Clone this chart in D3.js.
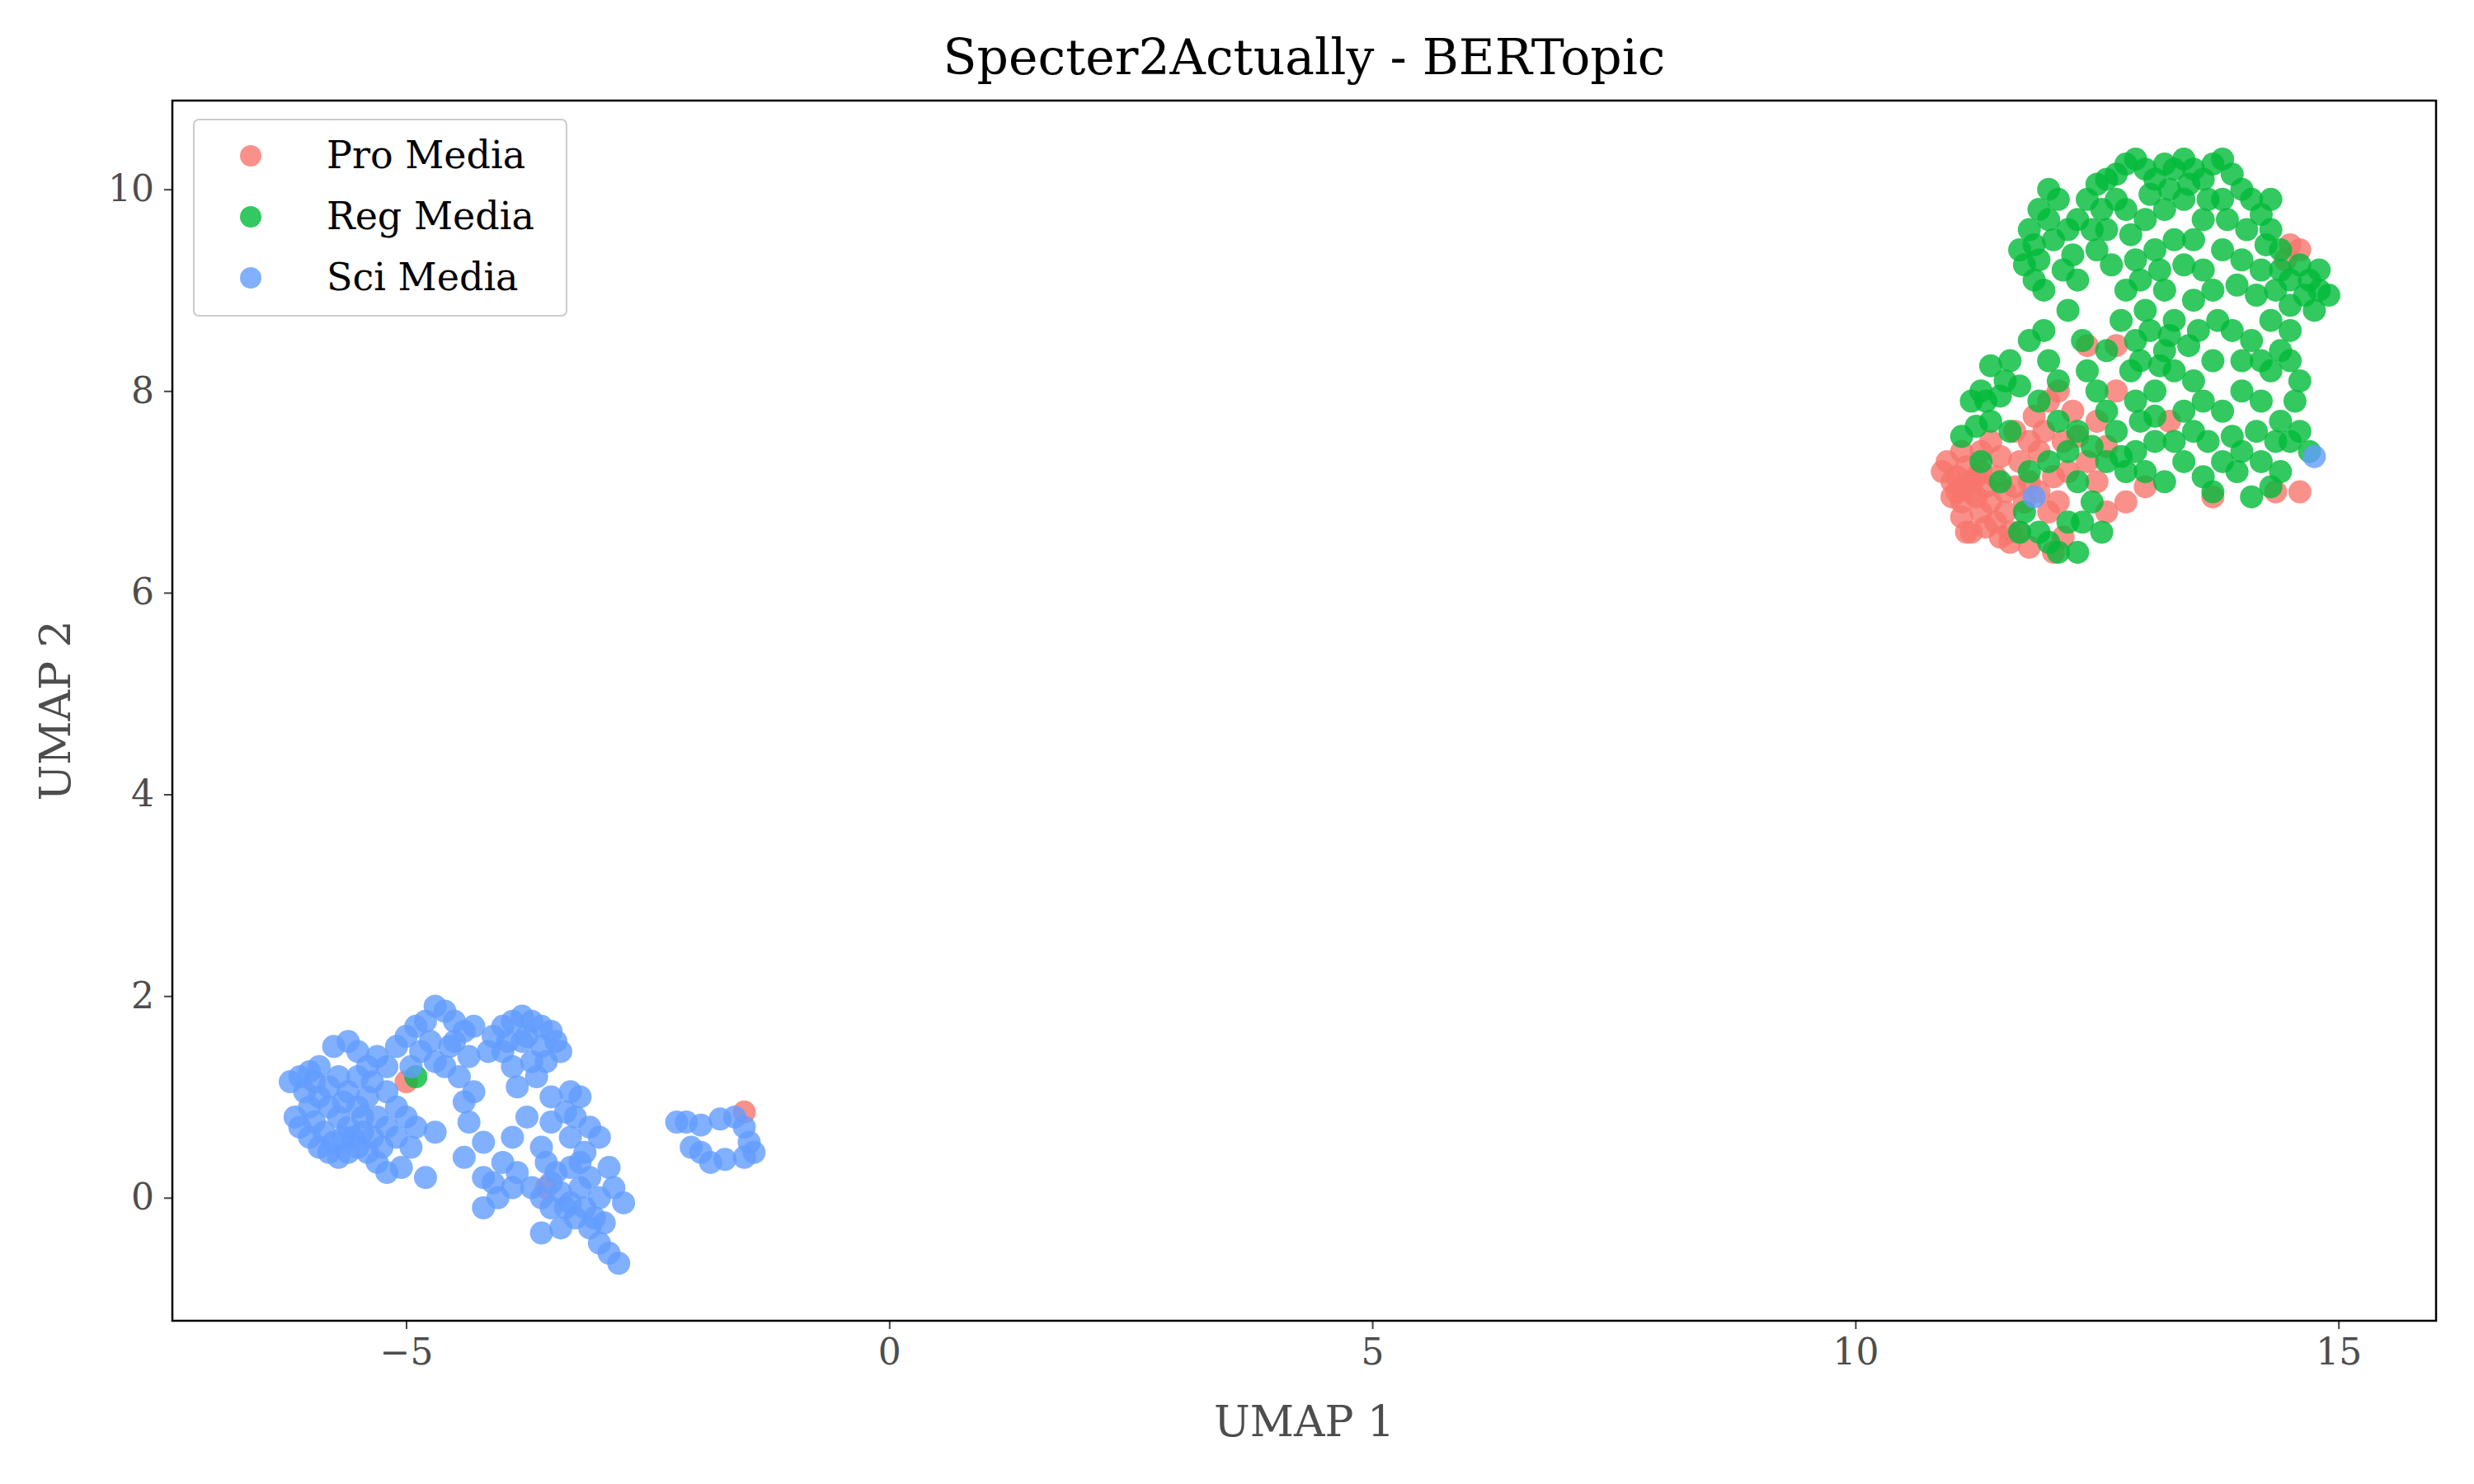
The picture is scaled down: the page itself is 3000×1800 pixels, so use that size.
<!DOCTYPE html>
<html>
<head>
<meta charset="utf-8">
<script src="https://cdn.jsdelivr.net/npm/d3@7"></script>
<style>body{margin:0;background:#fff}</style>
</head>
<body>
<script>
var categories = ["Pro Media", "Reg Media", "Sci Media"];
var colors = ["#F8766D", "#00BA38", "#619CFF"];
var xTicks = [-5, 0, 5, 10, 15];
var yTicks = [0, 2, 4, 6, 8, 10];

var proPoints = [[10.9,7.2],[11.0,7.1],[11.05,7.0],[11.1,6.9],[11.15,7.25],[11.2,7.1],[11.25,6.95],[11.3,6.8],[11.0,6.95],[11.1,6.75],[11.15,6.6],[11.35,7.05],[11.4,6.9],[11.45,6.7],[11.5,6.55],[11.6,6.5],[11.7,6.6],[11.55,6.8],[11.65,7.05],[11.3,7.4],[11.5,7.35],[11.4,7.5],[11.7,7.3],[11.8,7.1],[11.9,7.4],[11.95,7.6],[11.85,7.75],[12.0,7.9],[12.1,8.0],[12.15,7.5],[12.25,7.8],[12.0,6.8],[12.15,6.55],[12.4,7.3],[12.5,7.1],[12.6,7.45],[12.7,8.0],[12.4,8.45],[12.7,8.45],[13.0,7.05],[12.2,7.2],[12.8,6.9],[13.7,6.95],[14.6,7.0],[14.5,9.45],[14.6,9.4],[14.45,9.3],[11.1,7.4],[11.2,6.6],[10.95,7.3],[11.8,6.45],[11.6,6.6],[11.25,7.15],[12.6,6.8],[13.25,7.7],[14.35,7.0],[12.05,6.4],[11.05,7.15],[11.2,7.0],[11.3,7.2],[11.1,7.05],[11.45,7.15],[11.35,6.65],[11.55,7.0],[11.75,6.9],[11.9,7.0],[12.3,7.55],[12.05,7.15],[12.1,6.9],[11.65,7.6],[11.8,7.5],[12.5,7.7],[-1.5,0.85],[-5.0,1.15],[-3.55,0.1]];

var regPoints = [[12.5,10.05],[12.6,10.1],[12.7,10.15],[12.8,10.25],[12.9,10.3],[13.0,10.2],[13.1,10.1],[13.2,10.25],[13.3,10.2],[13.4,10.3],[13.5,10.2],[13.6,10.1],[13.7,10.25],[13.8,10.3],[13.9,10.15],[14.0,10.0],[14.1,9.9],[14.2,9.75],[14.3,9.6],[14.4,9.4],[12.4,9.9],[12.3,9.7],[12.2,9.6],[12.1,9.9],[12.0,10.0],[11.9,9.8],[11.8,9.6],[11.7,9.4],[11.75,9.25],[11.9,9.3],[12.05,9.5],[11.95,9.0],[12.3,9.1],[12.2,8.8],[12.5,9.4],[12.6,9.6],[12.8,9.8],[13.0,9.7],[13.2,9.8],[13.4,9.9],[13.6,9.7],[13.3,9.5],[13.1,9.4],[12.9,9.3],[12.8,9.0],[12.75,8.7],[12.9,8.5],[13.0,8.8],[13.2,9.0],[13.3,8.7],[13.5,8.9],[13.6,9.2],[13.8,9.4],[14.0,9.3],[14.2,9.2],[14.35,9.0],[14.5,9.1],[14.6,9.25],[14.7,9.1],[14.8,9.0],[14.9,8.95],[14.5,8.85],[14.3,8.7],[14.1,8.5],[14.2,8.3],[14.4,8.4],[13.9,8.6],[13.7,8.3],[13.5,8.1],[13.6,7.9],[13.4,7.8],[13.3,8.2],[13.2,8.4],[13.1,8.0],[12.95,7.7],[12.9,7.4],[12.8,7.2],[12.7,7.6],[12.6,7.8],[12.5,8.0],[12.6,8.4],[12.4,8.2],[12.3,7.6],[12.2,7.4],[12.3,7.1],[12.45,6.9],[12.2,6.7],[12.0,6.5],[12.1,6.4],[12.3,6.4],[11.9,6.6],[11.7,6.6],[12.0,7.3],[12.1,7.7],[11.9,7.9],[11.7,8.05],[11.5,7.95],[11.4,7.7],[11.6,7.6],[11.8,7.2],[11.5,7.1],[11.3,7.3],[11.1,7.55],[11.2,7.9],[11.3,8.0],[11.6,8.3],[11.8,8.5],[12.0,8.3],[12.1,8.1],[12.35,8.5],[13.0,7.2],[13.2,7.1],[13.4,7.3],[13.6,7.15],[13.8,7.3],[14.0,7.4],[14.2,7.3],[14.4,7.2],[14.5,7.5],[14.6,7.6],[14.7,7.4],[14.4,7.7],[14.2,7.9],[14.0,8.0],[13.8,7.8],[13.9,7.55],[14.3,7.05],[14.1,6.95],[13.7,7.0],[14.6,8.1],[14.5,8.6],[13.8,9.9],[14.3,9.9],[13.5,9.5],[12.95,9.1],[12.6,7.3],[13.1,7.5],[12.15,9.2],[11.95,8.6],[11.75,6.8],[12.55,6.6],[13.45,8.45],[14.75,8.8],
	[12.55,9.8],[12.7,9.9],[13.05,9.95],[13.25,10.0],[13.45,10.05],[13.65,9.9],[13.85,9.7],[14.05,9.6],[14.25,9.45],[12.85,9.55],[13.15,9.2],[13.4,9.25],[13.7,9.0],[13.95,9.05],[14.15,8.95],[14.4,9.2],[13.05,8.6],[13.25,8.55],[13.55,8.6],[13.75,8.7],[14.0,8.3],[14.3,8.2],[14.5,8.3],[14.55,7.9],[14.35,7.5],[14.15,7.6],[13.95,7.2],[13.65,7.5],[13.5,7.6],[13.3,7.5],[13.1,7.75],[12.9,7.9],[12.75,7.35],[12.85,8.2],[12.95,8.3],[13.15,8.25],[12.45,7.45],[12.35,6.7],[11.85,9.45],[12.0,9.7],[11.85,9.1],[12.45,9.6],[12.65,9.25],[12.25,9.35],[11.55,8.1],[11.4,8.25],[11.35,7.9],[11.25,7.65],[14.65,8.95],[14.8,9.2],[-4.9,1.2]];

var sciPoints = [[-6.2,1.15],[-6.1,1.2],[-6.0,1.25],[-5.9,1.3],[-6.15,0.8],[-6.1,0.7],[-6.0,0.6],[-5.9,0.5],[-5.8,0.45],[-5.7,0.4],[-5.6,0.45],[-5.5,0.5],[-5.4,0.45],[-5.3,0.35],[-6.0,0.9],[-5.9,1.0],[-5.8,0.9],[-5.7,0.8],[-5.6,0.7],[-5.5,0.9],[-5.4,1.0],[-5.3,0.8],[-5.2,0.7],[-5.1,0.6],[-5.8,1.1],[-5.7,1.2],[-5.6,1.05],[-5.5,1.2],[-5.85,0.65],[-5.65,0.6],[-5.45,0.65],[-5.75,1.5],[-5.6,1.55],[-5.5,1.45],[-5.3,1.4],[-5.2,1.3],[-5.1,1.5],[-5.0,1.6],[-5.2,1.05],[-5.1,0.9],[-5.0,0.8],[-4.9,0.7],[-4.95,0.5],[-5.05,0.3],[-5.2,0.25],[-4.8,0.2],[-4.7,0.65],[-4.4,0.4],[-4.2,0.2],[-4.9,1.7],[-4.8,1.75],[-4.7,1.9],[-4.6,1.85],[-4.5,1.75],[-4.4,1.65],[-4.3,1.7],[-4.55,1.5],[-4.6,1.3],[-4.7,1.35],[-4.85,1.45],[-4.45,1.2],[-4.4,0.95],[-4.3,1.05],[-4.35,0.75],[-4.2,0.55],[-4.1,1.6],[-4.0,1.7],[-3.9,1.75],[-3.8,1.8],[-3.7,1.75],[-3.6,1.7],[-3.5,1.65],[-3.4,1.45],[-3.6,1.5],[-3.8,1.55],[-4.0,1.45],[-3.9,1.3],[-3.7,1.35],[-3.65,1.2],[-3.85,1.1],[-3.5,1.0],[-3.3,1.05],[-3.2,1.0],[-3.25,0.8],[-3.1,0.7],[-3.0,0.6],[-3.3,0.6],[-3.5,0.75],[-3.6,0.5],[-3.75,0.8],[-3.9,0.6],[-4.0,0.35],[-3.85,0.25],[-3.9,0.1],[-4.05,0.0],[-3.7,0.1],[-3.6,0.0],[-3.5,-0.1],[-3.4,0.05],[-3.3,-0.05],[-3.2,0.1],[-3.1,0.2],[-3.0,0.0],[-2.9,0.3],[-3.3,0.3],[-3.45,0.25],[-3.25,-0.2],[-3.1,-0.3],[-3.0,-0.45],[-2.9,-0.55],[-2.8,-0.65],[-3.4,-0.3],[-2.75,-0.05],[-2.85,0.1],[-3.6,-0.35],[-4.2,-0.1],
	[-6.05,1.05],[-5.95,0.75],[-5.75,0.55],[-5.55,0.6],[-5.35,0.6],[-5.65,0.95],[-5.45,0.8],[-5.35,1.15],[-5.95,1.15],[-5.25,0.5],[-5.4,1.3],[-4.95,1.3],[-4.75,1.55],[-4.35,1.4],[-4.15,1.45],[-3.95,1.55],[-3.55,1.35],[-3.75,1.6],[-3.45,1.55],[-3.35,0.85],[-3.15,0.45],[-3.55,0.35],[-3.35,-0.1],[-3.15,-0.1],[-3.05,-0.2],[-3.2,0.35],[-2.95,-0.25],[-3.5,0.15],[-4.1,0.15],[-4.5,1.55],
	[-2.2,0.75],[-2.1,0.75],[-1.95,0.72],[-1.75,0.78],[-1.6,0.8],[-1.5,0.7],[-1.45,0.55],[-1.4,0.45],[-1.5,0.4],[-1.7,0.38],[-1.85,0.35],[-1.95,0.45],[-2.05,0.5],[11.85,6.95],[14.75,7.35]];

var W = 3000, H = 1800;
var m = {left: 209, right: 2954, top: 122, bottom: 1602};
var font = "'DejaVu Serif', serif";

var svg = d3.select("body").append("svg").attr("width", W).attr("height", H);

var x = d3.scaleLinear().domain([-7.42, 16.01]).range([m.left, m.right]);
var y = d3.scaleLinear().domain([-1.22, 10.88]).range([m.bottom, m.top]);

// points
var series = [proPoints, regPoints, sciPoints];
series.forEach(function(pts, i) {
	svg.append("g").selectAll("circle").data(pts).enter().append("circle")
		.attr("cx", function(d) { return x(d[0]); })
		.attr("cy", function(d) { return y(d[1]); })
		.attr("r", 14)
		.attr("fill", colors[i])
		.attr("fill-opacity", 0.8);
});

// axes
var fmt = function(d){ return d < 0 ? "\u2212" + (-d) : d; };
var gx = svg.append("g").attr("transform", "translate(0," + m.bottom + ")")
	.call(d3.axisBottom(x).tickValues(xTicks).tickSize(10).tickPadding(12).tickFormat(fmt));
var gy = svg.append("g").attr("transform", "translate(" + m.left + ",0)")
	.call(d3.axisLeft(y).tickValues(yTicks).tickSize(10).tickPadding(12).tickFormat(fmt));
[gx, gy].forEach(function(g) {
	g.select(".domain").remove();
	g.selectAll("line").attr("stroke", "#444").attr("stroke-width", 2);
	g.selectAll("text").attr("font-family", font).attr("font-size", 44).attr("fill", "#4d4d4d");
});

svg.append("rect").attr("x", m.left).attr("y", m.top)
	.attr("width", m.right - m.left).attr("height", m.bottom - m.top)
	.attr("fill", "none").attr("stroke", "#000").attr("stroke-width", 2.5);

svg.append("text").attr("x", (m.left + m.right) / 2).attr("y", 90)
	.attr("text-anchor", "middle").attr("font-family", font).attr("font-size", 60)
	.text("Specter2Actually - BERTopic");
svg.append("text").attr("x", (m.left + m.right) / 2).attr("y", 1742)
	.attr("text-anchor", "middle").attr("font-family", font).attr("font-size", 52).attr("fill", "#4d4d4d")
	.text("UMAP 1");
svg.append("text").attr("transform", "translate(85," + (m.top + m.bottom) / 2 + ") rotate(-90)")
	.attr("text-anchor", "middle").attr("font-family", font).attr("font-size", 52).attr("fill", "#4d4d4d")
	.text("UMAP 2");

// legend
var lg = svg.append("g");
lg.append("rect").attr("x", 235).attr("y", 145).attr("width", 452).attr("height", 238)
	.attr("rx", 6).attr("fill", "#fff").attr("fill-opacity", 0.8).attr("stroke", "#ccc").attr("stroke-width", 2);
categories.forEach(function(c, i) {
	var yy = 189 + i * 74;
	lg.append("circle").attr("cx", 304).attr("cy", yy).attr("r", 13).attr("fill", colors[i]).attr("fill-opacity", 0.8);
	lg.append("text").attr("x", 396).attr("y", yy + 15).attr("font-family", font).attr("font-size", 46).text(c);
});
</script>
</body>
</html>
